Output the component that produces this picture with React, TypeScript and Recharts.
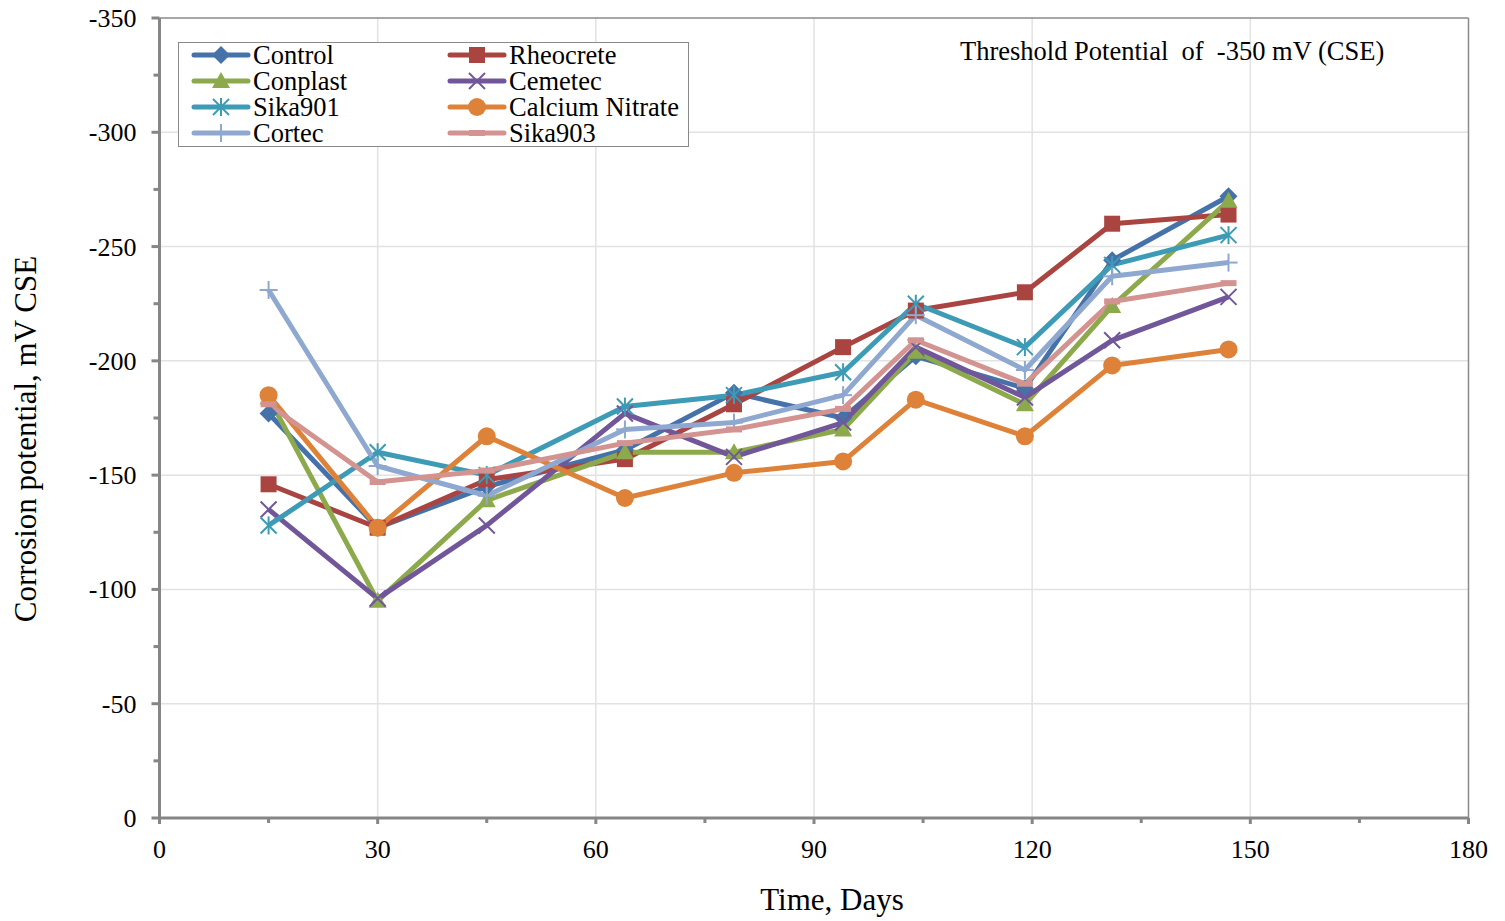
import React from 'react';
import { LineChart, Line, XAxis, YAxis, CartesianGrid, ReferenceLine, Label } from 'recharts';

const FONT = '"Liberation Serif", "Times New Roman", serif';
const AXIS = '#868686';
const GRID = '#e2e2e2';

// days after casting
const days = [15, 30, 45, 64, 79, 94, 104, 119, 131, 147];

// potentials, mV CSE
const control = [-177, -127, -145, -161, -186, -175, -202, -188, -244, -272];
const rheocrete = [-146, -127, -148, -157, -181, -206, -222, -230, -260, -264];
const conplast = [-184, -95, -139, -160, -160, -170, -204, -181, -224, -270];
const cemetec = [-135, -96, -128, -177, -158, -173, -206, -184, -209, -228];
const sika901 = [-128, -160, -150, -180, -185, -195, -225, -206, -242, -255];
const calciumNitrate = [-185, -127, -167, -140, -151, -156, -183, -167, -198, -205];
const cortec = [-231, -154, -141, -170, -173, -185, -220, -196, -237, -243];
const sika903 = [-181, -147, -152, -164, -170, -179, -209, -190, -226, -234];

const yTicks = [-350, -325, -300, -275, -250, -225, -200, -175, -150, -125, -100, -75, -50, -25, 0];
const xTicks = [0, 15, 30, 45, 60, 75, 90, 105, 120, 135, 150, 165, 180];
const yGridValues = [-300, -250, -200, -150, -100, -50];
const xGridValues = [30, 60, 90, 120, 150];

type MarkerKind = 'diamond' | 'square' | 'triangle' | 'x' | 'asterisk' | 'circle' | 'plus' | 'dash';

const series: { key: string; name: string; values: number[]; color: string; marker: MarkerKind }[] = [
  { key: 'control', name: 'Control', values: control, color: '#4472A9', marker: 'diamond' },
  { key: 'rheocrete', name: 'Rheocrete', values: rheocrete, color: '#A94441', marker: 'square' },
  { key: 'conplast', name: 'Conplast', values: conplast, color: '#8CAA4B', marker: 'triangle' },
  { key: 'cemetec', name: 'Cemetec', values: cemetec, color: '#71579A', marker: 'x' },
  { key: 'sika901', name: 'Sika901', values: sika901, color: '#3D9BB5', marker: 'asterisk' },
  { key: 'calciumNitrate', name: 'Calcium Nitrate', values: calciumNitrate, color: '#DE8239', marker: 'circle' },
  { key: 'cortec', name: 'Cortec', values: cortec, color: '#8EA8D0', marker: 'plus' },
  { key: 'sika903', name: 'Sika903', values: sika903, color: '#D39391', marker: 'dash' },
];

const data = days.map((day, i) => {
  const row: Record<string, number> = { day };
  series.forEach(s => { row[s.key] = s.values[i]; });
  return row;
});

function Marker({ kind, cx, cy, color }: { kind: MarkerKind; cx: number; cy: number; color: string }) {
  switch (kind) {
    case 'diamond':
      return <polygon points={`${cx},${cy - 9} ${cx + 9},${cy} ${cx},${cy + 9} ${cx - 9},${cy}`} fill={color} />;
    case 'square':
      return <rect x={cx - 8} y={cy - 8} width={16} height={16} fill={color} />;
    case 'triangle':
      return <polygon points={`${cx},${cy - 9} ${cx + 9},${cy + 7} ${cx - 9},${cy + 7}`} fill={color} />;
    case 'circle':
      return <circle cx={cx} cy={cy} r={9} fill={color} />;
    case 'x':
      return (
        <g stroke={color} strokeWidth={2}>
          <line x1={cx - 8} y1={cy - 8} x2={cx + 8} y2={cy + 8} />
          <line x1={cx - 8} y1={cy + 8} x2={cx + 8} y2={cy - 8} />
        </g>
      );
    case 'asterisk':
      return (
        <g stroke={color} strokeWidth={2}>
          <line x1={cx - 8} y1={cy - 8} x2={cx + 8} y2={cy + 8} />
          <line x1={cx - 8} y1={cy + 8} x2={cx + 8} y2={cy - 8} />
          <line x1={cx} y1={cy - 9} x2={cx} y2={cy + 9} />
        </g>
      );
    case 'plus':
      return (
        <g stroke={color} strokeWidth={2}>
          <line x1={cx - 9} y1={cy} x2={cx + 9} y2={cy} />
          <line x1={cx} y1={cy - 9} x2={cx} y2={cy + 9} />
        </g>
      );
    case 'dash':
      return <rect x={cx - 8} y={cy - 3} width={16} height={6} fill={color} />;
  }
  return null;
}

const YTick = (props: any) => {
  const { x, y, payload } = props;
  const major = payload.value % 50 === 0;
  return (
    <g>
      <line x1={x - (major ? 8 : 6)} x2={x} y1={y} y2={y} stroke={AXIS} strokeWidth={3} />
      {major && (
        <text x={x - 23} y={y + 9} textAnchor="end" fontSize={26} fontFamily={FONT} fill="#000">
          {payload.value}
        </text>
      )}
    </g>
  );
};

const XTick = (props: any) => {
  const { x, y, payload } = props;
  const major = payload.value % 30 === 0;
  return (
    <g>
      <line x1={x} x2={x} y1={y} y2={y + (major ? 6 : 5)} stroke={AXIS} strokeWidth={3} />
      {major && (
        <text x={x} y={y + 40} textAnchor="middle" fontSize={26} fontFamily={FONT} fill="#000">
          {payload.value}
        </text>
      )}
    </g>
  );
};

const ChartLegend = () => (
  <div
    style={{
      position: 'absolute', left: 178, top: 42, width: 511, height: 105,
      border: '1.5px solid #8a8a8a', background: '#fff', boxSizing: 'border-box',
    }}
  >
    <svg width={511} height={105} style={{ position: 'absolute', left: -1.5, top: -1.5, overflow: 'visible' }}>
      {series.map((s, i) => {
        const col = i % 2;
        const row = Math.floor(i / 2);
        const x0 = col === 0 ? 16 : 272;
        const cy = 13 + row * 26;
        return (
          <g key={s.key}>
            <line x1={x0} x2={x0 + 54} y1={cy} y2={cy} stroke={s.color} strokeWidth={5} strokeLinecap="round" />
            <Marker kind={s.marker} cx={x0 + 27} cy={cy} color={s.color} />
            <text x={x0 + 59} y={cy + 9} fontSize={26.5} fontFamily={FONT} fill="#000">{s.name}</text>
          </g>
        );
      })}
    </svg>
  </div>
);

export default function App() {
  return (
    <div style={{ position: 'absolute', left: 0, top: 0, width: 1505, height: 921, background: '#fff' }}>
      <LineChart width={1505} height={921} data={data} margin={{ top: 18, right: 36.5, bottom: 0, left: 0 }}>
        <CartesianGrid
          stroke={GRID}
          strokeWidth={1.5}
          horizontalValues={yGridValues}
          verticalValues={xGridValues}
        />
        <ReferenceLine y={-350} stroke="#8a8a8a" strokeWidth={1.5} />
        <ReferenceLine x={180} stroke="#8a8a8a" strokeWidth={1.5} />
        <XAxis
          dataKey="day"
          type="number"
          domain={[0, 180]}
          ticks={xTicks}
          interval={0}
          height={103}
          tickSize={0}
          tickMargin={0}
          tickLine={false}
          tick={<XTick />}
          axisLine={{ stroke: AXIS, strokeWidth: 3 }}
        >
          <Label
            content={() => (
              <text x={832} y={910} textAnchor="middle" fontSize={31} fontFamily={FONT} fill="#000">
                Time, Days
              </text>
            )}
          />
        </XAxis>
        <YAxis
          type="number"
          domain={[-350, 0]}
          reversed
          ticks={yTicks}
          interval={0}
          width={159.5}
          tickSize={0}
          tickMargin={0}
          tickLine={false}
          tick={<YTick />}
          axisLine={{ stroke: AXIS, strokeWidth: 3 }}
        >
          <Label
            content={() => (
              <text
                x={36}
                y={439}
                transform="rotate(-90 36 439)"
                textAnchor="middle"
                fontSize={31}
                fontFamily={FONT}
                fill="#000"
              >
                Corrosion potential, mV CSE
              </text>
            )}
          />
        </YAxis>
        {series.map(s => (
          <Line
            key={s.key}
            type="linear"
            dataKey={s.key}
            name={s.name}
            stroke={s.color}
            strokeWidth={5}
            strokeLinejoin="round"
            isAnimationActive={false}
            activeDot={false}
            dot={(p: any) => <Marker key={`${s.key}-${p.index}`} kind={s.marker} cx={p.cx} cy={p.cy} color={s.color} />}
          />
        ))}
      </LineChart>
      <ChartLegend />
      <div
        style={{
          position: 'absolute', left: 960, top: 36, fontSize: 26.5, fontFamily: FONT,
          lineHeight: '30px', whiteSpace: 'pre', color: '#000',
        }}
      >
        {'Threshold Potential  of  -350 mV (CSE)'}
      </div>
    </div>
  );
}
